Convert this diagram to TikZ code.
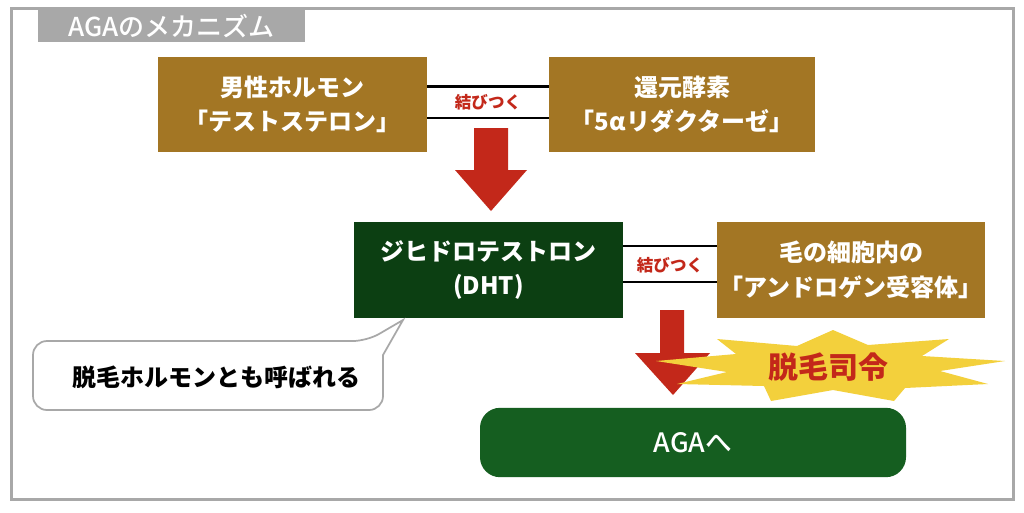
\documentclass[tikz,border=0pt]{standalone}
\usepackage{fontspec}
\setmainfont{Noto Sans CJK JP}
\newfontfamily\medfont{Noto Sans CJK JP}[UprightFont={* Medium}]
\usetikzlibrary{calc}
\definecolor{brownbox}{HTML}{A37624}
\definecolor{darkgreen}{HTML}{0C3F12}
\definecolor{agagreen}{HTML}{155E20}
\definecolor{arrowred}{HTML}{C3281A}
\definecolor{staryellow}{HTML}{F3D03C}
\definecolor{framegray}{HTML}{A8A8A8}
\tikzset{
  boxbase/.style={inner sep=0pt, align=center, text=white, font=\bfseries\fontsize{18pt}{26pt}\selectfont},
  brownnode/.style={boxbase, fill=brownbox},
  greennode/.style={boxbase, fill=darkgreen},
  joinline/.style={line width=1.6pt, black},
  joinlabel/.style={text=arrowred, font=\bfseries\fontsize{12.4pt}{14pt}\selectfont, inner sep=0pt},
  blockarrow/.style={fill=arrowred},
  bubble/.style={draw=framegray, line width=1.3pt, fill=white}
}
\begin{document}
\begin{tikzpicture}[x=0.75pt,y=-0.75pt]
\useasboundingbox (0,0) rectangle (1024,512);
\fill[white] (0,0) rectangle (1024,512);
% frame
\draw[framegray, line width=2.25pt] (11,8) rectangle (1013,499);
\node[fill=framegray, text=white, minimum width=200.25pt, minimum height=24pt, inner sep=0pt,
      font=\medfont\fontsize{19.5pt}{22pt}\selectfont] (title) at (171.5,26) {AGAのメカニズム};
% top row
\node[brownnode, minimum width=201.75pt, minimum height=71.25pt] (testo) at (292.5,104.5) {男性ホルモン\\「テストステロン」};
\node[brownnode, minimum width=199.5pt, minimum height=71.25pt] (enzyme) at (682,104.5) {還元酵素\\「5αリダクターゼ」};
\draw[joinline] ($(testo.east)+(0,-18)$) -- ($(enzyme.west)+(0,-18)$);
\draw[joinline] ($(testo.east)+(0,13.5)$) -- ($(enzyme.west)+(0,13.5)$);
\node[joinlabel] (join1) at ($(testo.east)!0.5!(enzyme.west)+(0,-2.5)$) {結びつく};
% arrow 1
\fill[blockarrow] (474,128) -- (508,128) -- (508,170) -- (527,170) -- (491,211) -- (455,170) -- (474,170) -- cycle;
% middle row
\node[greennode, minimum width=201.75pt, minimum height=72pt] (dht) at (488.5,270) {ジヒドロテストロン\\(DHT)};
\node[brownnode, minimum width=201pt, minimum height=72pt] (recep) at (851,270) {毛の細胞内の\\「アンドロゲン受容体」};
\draw[joinline] ($(dht.east)+(0,-24)$) -- ($(recep.west)+(0,-24)$);
\draw[joinline] ($(dht.east)+(0,12)$) -- ($(recep.west)+(0,12)$);
\node[joinlabel] (join2) at ($(dht.east)!0.5!(recep.west)+(0,-5)$) {結びつく};
% arrow 2
\fill[blockarrow] (660,310) -- (684,310) -- (684,353) -- (710,353) -- (673,395) -- (635,353) -- (660,353) -- cycle;
% starburst
\fill[staryellow] (833,330) -- (868,345) -- (949,339) -- (922,356) -- (1005,361) -- (940,371) -- (988,384)
  -- (905,388) -- (894,401) -- (833,390) -- (771,401) -- (764,386) -- (677,384) -- (727,372)
  -- (656,361) -- (736,354) -- (717,339) -- (797,346) -- cycle;
\node[text=arrowred, font=\bfseries\fontsize{22.5pt}{24pt}\selectfont, inner sep=0pt] (order) at (828,367) {脱毛司令};
% AGA box
\node[inner sep=0pt, text=white, font=\medfont\fontsize{20pt}{26pt}\selectfont, fill=agagreen, rounded corners=15pt,
      minimum width=319.5pt, minimum height=52pt] (aga) at (693,442.5) {AGAへ};
% speech bubble
\coordinate (tip) at (403,320);
\draw[bubble] (33,375) [rounded corners=10.5pt] |- (367,341) [sharp corners] -- (tip) -- (383,355)
  [rounded corners=10.5pt] |- (33,410) -- cycle;
\node[inner sep=0pt, font=\bfseries\fontsize{18pt}{20pt}\selectfont] (note) at (216,377) {脱毛ホルモンとも呼ばれる};
\end{tikzpicture}
\end{document}
